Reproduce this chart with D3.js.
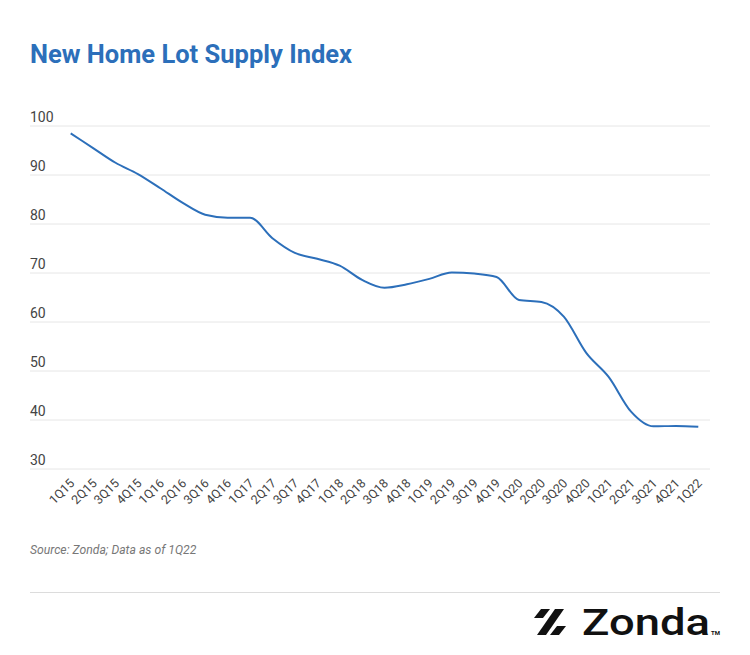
<!DOCTYPE html>
<html>
<head>
<meta charset="utf-8">
<script src="https://cdn.jsdelivr.net/npm/d3@7"></script>
<style>
  body{ margin:0; background:#fff; }
  svg text{ font-family: Roboto, "Liberation Sans", sans-serif; }
  .grid line{ stroke:#e6e6e6; stroke-width:1; }
</style>
</head>
<body>
<svg id="chart" width="750" height="655"></svg>
<script>
// quarters shown along the bottom
var quarters = ["1Q15","2Q15","3Q15","4Q15","1Q16","2Q16","3Q16","4Q16","1Q17","2Q17","3Q17","4Q17",
                "1Q18","2Q18","3Q18","4Q18","1Q19","2Q19","3Q19","4Q19","1Q20","2Q20","3Q20","4Q20",
                "1Q21","2Q21","3Q21","4Q21","1Q22"];
// index values
var supplyIndex = [98.5,95.5,92.5,90.2,87.3,84.3,81.9,81.3,81.3,77.1,74.1,72.9,
                   71.5,68.6,67.0,67.7,68.8,70.1,69.9,69.2,64.5,64.1,61.1,53.7,
                   48.8,41.7,38.7,38.8,38.6];
var yTicks = [30,40,50,60,70,80,90,100];

var svg = d3.select("#chart");
var blue = "#2c6fba";

var x = d3.scalePoint().domain(quarters).range([70.7, 698.3]);
var y = d3.scaleLinear().domain([30,100]).range([469, 126]);

// title
svg.append("text")
    .attr("x", 30).attr("y", 63)
    .attr("fill", blue)
    .style("font-size", "25.5px").style("font-weight", "bold")
    .text("New Home Lot Supply Index");

// grid + y labels
var grid = svg.append("g").attr("class", "grid");
grid.selectAll("line").data(yTicks).enter().append("line")
    .attr("x1", 30).attr("x2", 710)
    .attr("y1", function(d){ return y(d); })
    .attr("y2", function(d){ return y(d); });
svg.append("g").selectAll("text").data(yTicks).enter().append("text")
    .attr("x", 30)
    .attr("y", function(d){ return y(d) - 4.5; })
    .attr("fill", "#444")
    .style("font-size", "14px")
    .text(function(d){ return d; });

// x labels, rotated
svg.append("g").selectAll("text").data(quarters).enter().append("text")
    .attr("transform", function(d){ return "translate(" + (x(d) + 4.5) + ",484) rotate(-45)"; })
    .attr("text-anchor", "end")
    .attr("fill", "#444")
    .style("font-size", "12.5px")
    .text(function(d){ return d; });

// line
var line = d3.line()
    .x(function(d, i){ return x(quarters[i]); })
    .y(function(d){ return y(d); })
    .curve(d3.curveMonotoneX);
svg.append("path")
    .datum(supplyIndex)
    .attr("d", line)
    .attr("fill", "none")
    .attr("stroke", blue)
    .attr("stroke-width", 2);

// source note
svg.append("text")
    .attr("x", 30).attr("y", 554)
    .attr("fill", "#777")
    .style("font-size", "12.2px").style("font-style", "italic")
    .text("Source: Zonda; Data as of 1Q22");

svg.append("line")
    .attr("x1", 30).attr("x2", 720)
    .attr("y1", 592.5).attr("y2", 592.5)
    .attr("stroke", "#dcdcdc");

// logo
var logo = svg.append("g").attr("fill", "#111");
logo.append("polygon").attr("points", "541,609 550,609 543,618 534,618");
logo.append("polygon").attr("points", "555,609 564,609 546,635 537,635");
logo.append("polygon").attr("points", "557,626 566,626 559,635 550,635");
svg.append("text")
    .attr("x", 582).attr("y", 635)
    .attr("fill", "#111")
    .attr("textLength", 128).attr("lengthAdjust", "spacingAndGlyphs")
    .style("font-size", "37px").style("font-weight", 500)
    .text("Zonda");
svg.append("text")
    .attr("x", 711).attr("y", 635)
    .attr("fill", "#111")
    .style("font-size", "6px").style("font-weight", "bold")
    .text("TM");
</script>
</body>
</html>
